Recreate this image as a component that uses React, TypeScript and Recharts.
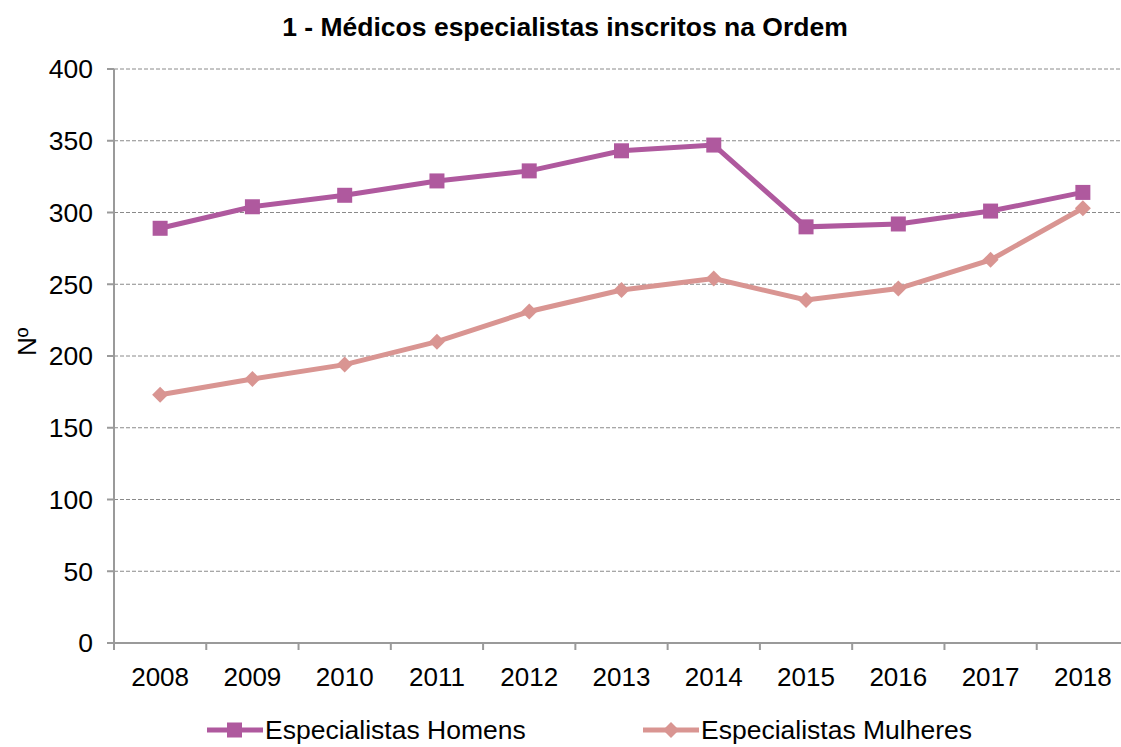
import { LineChart, Line, XAxis, YAxis, CartesianGrid } from "recharts";

const years = ["2008", "2009", "2010", "2011", "2012", "2013", "2014", "2015", "2016", "2017", "2018"];
const homens = [289, 304, 312, 322, 329, 343, 347, 290, 292, 301, 314];
const mulheres = [173, 184, 194, 210, 231, 246, 254, 239, 247, 267, 303];
const yTicks = [0, 50, 100, 150, 200, 250, 300, 350, 400];

const data = years.map((year, i) => ({ year, homens: homens[i], mulheres: mulheres[i] }));

const W = 1135;
const H = 747;
const M = { top: 69, right: 6, bottom: 54, left: 0 };
const Y_W = 114;
const PLOT_W = W - M.left - M.right - Y_W;
const BAND = PLOT_W / years.length;
const PLOT_BOTTOM = H - M.bottom - 50;

const PURPLE = "#AF599E";
const SALMON = "#D99592";
const AXIS = "#9a9a9a";
const FONT = "'Liberation Sans', Arial, sans-serif";

const Square = (props: any) => {
  const { cx, cy, index } = props;
  if (cx == null || cy == null) return <g key={index} />;
  return <rect key={index} x={cx - 7.5} y={cy - 7.5} width={15} height={15} fill={PURPLE} />;
};

const Diamond = (props: any) => {
  const { cx, cy, index } = props;
  if (cx == null || cy == null) return <g key={index} />;
  const r = 8;
  return <polygon key={index} points={`${cx},${cy - r} ${cx + r},${cy} ${cx},${cy + r} ${cx - r},${cy}`} fill={SALMON} />;
};

const XTick = (props: any) => {
  const { x, payload } = props;
  const bx = x - BAND / 2;
  return (
    <g>
      <line x1={bx} x2={bx} y1={PLOT_BOTTOM} y2={PLOT_BOTTOM + 7} stroke={AXIS} strokeWidth={2} />
      <text x={x} y={PLOT_BOTTOM + 25} dy="0.71em" textAnchor="middle" fontSize={26} fill="#000" fontFamily={FONT}>
        {payload.value}
      </text>
    </g>
  );
};

const legendRow = { position: "absolute" as const, top: 715, display: "flex", alignItems: "center", fontSize: 26.5, lineHeight: "30px", color: "#000", whiteSpace: "nowrap" as const };

export default function App() {
  return (
    <div style={{ position: "absolute", left: 0, top: 0, width: 1121, height: 747, overflow: "hidden", background: "#fff", fontFamily: FONT }}>
      <div style={{ position: "absolute", left: 0, width: 1130, top: 12, textAlign: "center", fontWeight: "bold", fontSize: 26.5, color: "#000" }}>
        1 - Médicos especialistas inscritos na Ordem
      </div>
      <LineChart width={W} height={H} data={data} margin={M}>
        <CartesianGrid vertical={false} stroke="#8a8a8a" strokeDasharray="4 2" />
        <XAxis
          dataKey="year"
          padding={{ left: BAND / 2, right: BAND / 2 }}
          height={50}
          axisLine={{ stroke: AXIS, strokeWidth: 2 }}
          tickLine={false}
          tick={<XTick />}
          interval={0}
        />
        <YAxis
          width={Y_W}
          domain={[0, 400]}
          ticks={yTicks}
          interval={0}
          axisLine={{ stroke: AXIS, strokeWidth: 2 }}
          tickLine={{ stroke: AXIS, strokeWidth: 2 }}
          tickSize={7}
          tickMargin={14}
          tick={{ fontSize: 26.5, fill: "#000", fontFamily: FONT }}
          label={{ value: "Nº", angle: -90, position: "insideLeft", offset: 27, style: { fontSize: 26, fill: "#000", fontFamily: FONT } }}
        />
        <Line dataKey="homens" stroke={PURPLE} strokeWidth={5} dot={<Square />} isAnimationActive={false} />
        <Line dataKey="mulheres" stroke={SALMON} strokeWidth={5} dot={<Diamond />} isAnimationActive={false} />
      </LineChart>
      <div style={{ ...legendRow, left: 207 }}>
        <svg width={56} height={20}>
          <line x1={0} x2={56} y1={10} y2={10} stroke={PURPLE} strokeWidth={5} />
          <rect x={20} y={2.5} width={15} height={15} fill={PURPLE} />
        </svg>
        <span style={{ marginLeft: 2 }}>Especialistas Homens</span>
      </div>
      <div style={{ ...legendRow, left: 643 }}>
        <svg width={56} height={20}>
          <line x1={0} x2={56} y1={10} y2={10} stroke={SALMON} strokeWidth={5} />
          <polygon points="28,2 36,10 28,18 20,10" fill={SALMON} />
        </svg>
        <span style={{ marginLeft: 2 }}>Especialistas Mulheres</span>
      </div>
    </div>
  );
}
